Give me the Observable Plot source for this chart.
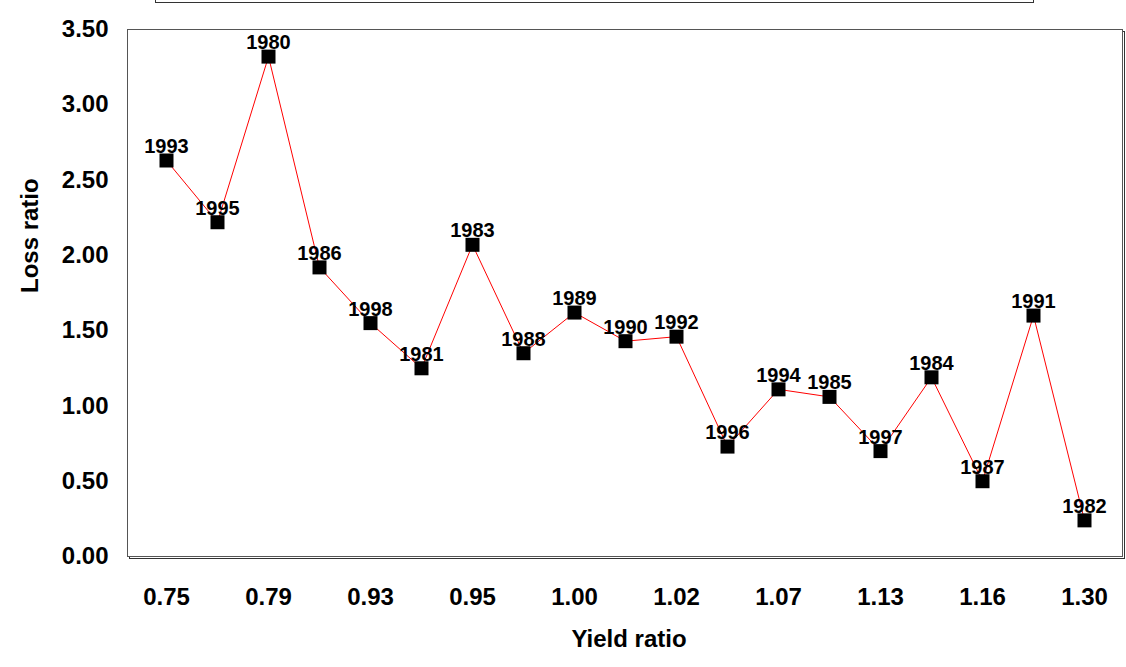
<!DOCTYPE html>
<html>
<head>
<meta charset="utf-8">
<script src="https://cdn.jsdelivr.net/npm/d3@7"></script>
<script src="https://cdn.jsdelivr.net/npm/@observablehq/plot@0.6"></script>
<style>
  html, body { margin: 0; padding: 0; background: white; }
  #wrap { position: relative; width: 1126px; height: 667px; overflow: hidden; }
  #topbox { position: absolute; left: 155px; top: -6px; width: 877px; height: 7px; border: 1px solid #333; background: white; }
</style>
</head>
<body>
<div id="wrap"><div id="topbox"></div></div>
<script>
const years = ["1993","1995","1980","1986","1998","1981","1983","1988","1989","1990","1992","1996","1994","1985","1997","1984","1987","1991","1982"];
const lossRatio = [2.63,2.22,3.32,1.92,1.55,1.25,2.07,1.35,1.62,1.43,1.46,0.73,1.11,1.06,0.70,1.19,0.50,1.60,0.24];
const yieldTickLabels = ["0.75","0.79","0.93","0.95","1.00","1.02","1.07","1.13","1.16","1.30"];
const yTicks = [0,0.5,1,1.5,2,2.5,3,3.5];

const tickYears = years.filter((d, i) => i % 2 === 0);
const data = years.map((y, i) => ({year: y, loss: lossRatio[i]}));

const chart = Plot.plot({
  width: 1126,
  height: 667,
  marginLeft: 127,
  marginRight: 4,
  marginTop: 29,
  marginBottom: 111,
  style: {fontFamily: "'Liberation Sans', Arial, sans-serif", fontWeight: "bold", fontSize: "24px", color: "black", background: "white"},
  x: {type: "point", domain: years, padding: 0.7, ticks: tickYears,
      tickFormat: d => yieldTickLabels[tickYears.indexOf(d)], tickSize: 0, tickPadding: 31, label: null},
  y: {domain: [0, 3.5], ticks: yTicks, tickFormat: d3.format(".2f"), tickSize: 0, tickPadding: 19, label: null},
  marks: [
    Plot.frame({stroke: "#333", dx: 2, dy: 2}),
    Plot.frame({stroke: "#555", fill: "white"}),
    Plot.line(data, {x: "year", y: "loss", stroke: "red", strokeWidth: 1}),
    Plot.dot(data, {x: "year", y: "loss", symbol: "square", r: 7.9, fill: "black", stroke: "none"}),
    Plot.text(data, {x: "year", y: "loss", text: "year", dy: -14, fontSize: 20, fill: "black"}),
    Plot.text(["Loss ratio"], {frameAnchor: "left", dx: -97, rotate: -90, fill: "black"}),
    Plot.text(["Yield ratio"], {frameAnchor: "bottom", dy: 90, dx: 4, fill: "black"})
  ]
});
document.getElementById("wrap").insertBefore(chart, document.getElementById("topbox"));
</script>
</body>
</html>
